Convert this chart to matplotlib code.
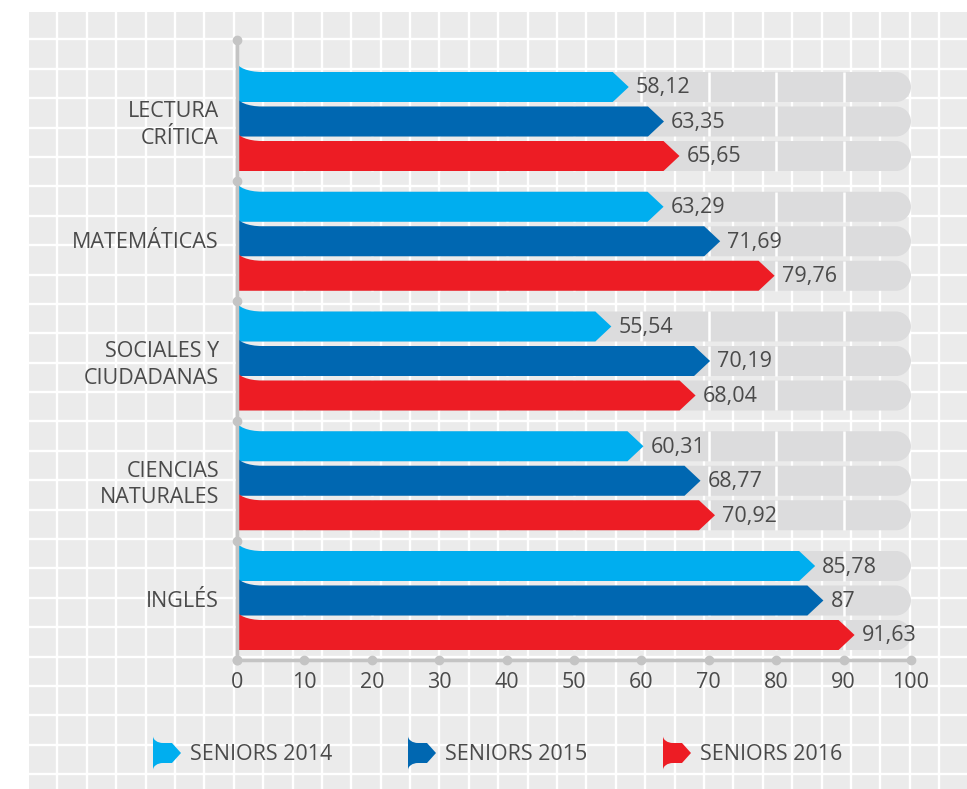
import matplotlib
matplotlib.use("Agg")
import matplotlib.pyplot as plt
from matplotlib.path import Path
from matplotlib.patches import PathPatch, Rectangle

plt.rcParams['font.family'] = ['Open Sans', 'DejaVu Sans']

# data
categories = ["LECTURA\nCRÍTICA", "MATEMÁTICAS", "SOCIALES Y\nCIUDADANAS",
              "CIENCIAS\nNATURALES", "INGLÉS"]
seniors_2014 = [58.12, 63.29, 55.54, 60.31, 85.78]
seniors_2015 = [63.35, 71.69, 70.19, 68.77, 87]
seniors_2016 = [65.65, 79.76, 68.04, 70.92, 91.63]
series_names = ["SENIORS 2014", "SENIORS 2015", "SENIORS 2016"]
colors = ["#00aeef", "#0067b1", "#ed1c24"]
ticks = list(range(0, 101, 10))

text_col = "#4a4a4a"
gray_bar = "#dcdcdd"
axis_col = "#c4c4c4"
fs = 15.5

W, H = 967, 789
fig = plt.figure(figsize=(W / 100, H / 100), dpi=100)

# graph-paper background (pixel coords)
bg = fig.add_axes([0, 0, 1, 1], zorder=0)
bg.set_xlim(0, W)
bg.set_ylim(H, 0)
bg.axis("off")
bg.add_patch(Rectangle((29, 12), W - 29, H - 12, color="#ebebeb", lw=0))
x = 57.3
while x < W:
    bg.plot([x, x], [12, H], color="white", lw=1.7)
    x += 29.4
y = 39.3
while y < H:
    bg.plot([29, W], [y, y], color="white", lw=1.7)
    y += 29.4


def flag_path(x0, x1, yc, h, tip, fl, fh, both=False):
    k = 0.448
    yt, yb = yc - h / 2, yc + h / 2
    verts = [(x0, yt - fh), (x0, yt - fh * k), (x0 + fl * k, yt), (x0 + fl, yt),
             (x1 - tip, yt), (x1, yc), (x1 - tip, yb)]
    codes = [Path.MOVETO] + [Path.CURVE4] * 3 + [Path.LINETO] * 3
    if both:
        verts += [(x0 + fl, yb), (x0 + fl * k, yb), (x0, yb + fh * k), (x0, yb + fh)]
        codes += [Path.LINETO] + [Path.CURVE4] * 3
    else:
        verts += [(x0, yb)]
        codes += [Path.LINETO]
    verts += [(x0, yt - fh)]
    codes += [Path.CLOSEPOLY]
    return Path(verts, codes)


def round_bar(x1, yc, h, rx):
    yt, yb = yc - h / 2, yc + h / 2
    ry = h / 2
    cx = x1 - rx
    verts = [(0, yt), (cx, yt),
             (cx + 0.552 * rx, yt), (x1, yc - 0.552 * ry), (x1, yc),
             (x1, yc + 0.552 * ry), (cx + 0.552 * rx, yb), (cx, yb),
             (0, yb), (0, yt)]
    codes = [Path.MOVETO, Path.LINETO] + [Path.CURVE4] * 6 + [Path.LINETO, Path.CLOSEPOLY]
    return Path(verts, codes)


# main axes: x in data units, y in pixels from top of plot area
left, right, top, bottom = 237, 911, 40, 660
ax = fig.add_axes([left / W, (H - bottom) / H, (right - left) / W, (bottom - top) / H], zorder=1)
ax.patch.set_alpha(0)
ax.set_xlim(0, 100)
ax.set_ylim(bottom - top, 0)
for s in ax.spines.values():
    s.set_visible(False)

pxu = (right - left) / 100.0  # pixels per x unit
first_c, group_step, bar_step, bar_h = 81.5, 119.75, 34.5, 30

series = [seniors_2014, seniors_2015, seniors_2016]
centers = [first_c + i * group_step for i in range(len(categories))]

for i, c in enumerate(centers):
    for j, vals in enumerate(series):
        yc = c + (j - 1) * bar_step
        ax.add_patch(PathPatch(round_bar(100, yc, bar_h, 15 / pxu), fc=gray_bar, ec="none",
                               zorder=1, clip_on=False))
        ax.vlines(ticks[1:-1], yc - bar_h / 2, yc + bar_h / 2, color="white", lw=1.8, zorder=2)
        v = vals[i]
        ax.add_patch(PathPatch(flag_path(0, v, yc, bar_h, 16 / pxu, 25 / pxu, 10),
                               fc=colors[j], ec="none", zorder=3, clip_on=False))
        ax.text(v + 7 / pxu, yc + 1, f"{v:g}".replace(".", ","), ha="left", va="center",
                fontsize=fs, color=text_col, zorder=4)

# axis lines with dots
ymax = bottom - top
bounds = [0] + [c + group_step / 2 for c in centers[:-1]] + [ymax]
ax.plot([0, 0], [0, ymax], color=axis_col, lw=2.5, zorder=5, clip_on=False)
ax.plot([0] * len(bounds), bounds, "o", color=axis_col, ms=6, zorder=5, clip_on=False)
ax.plot([0, 100], [ymax, ymax], color=axis_col, lw=2.5, zorder=5, clip_on=False)
ax.plot(ticks, [ymax] * len(ticks), "o", color=axis_col, ms=6, zorder=5, clip_on=False)

ax.set_xticks(ticks)
ax.set_xticklabels([str(t) for t in ticks], fontsize=fs, color=text_col)
ax.set_yticks([c - 1.5 for c in centers])
ax.set_yticklabels(categories, fontsize=fs, color=text_col, linespacing=1.35)
ax.tick_params(axis="x", length=0, pad=9)
ax.tick_params(axis="y", length=0, pad=13)

# legend (pixel coords on background axes)
leg_x = [153, 408, 663]
for name, col, lx in zip(series_names, colors, leg_x):
    bg.add_patch(PathPatch(flag_path(lx, lx + 28, 753, 20, 9, 10, 7, both=True),
                           fc=col, ec="none", zorder=3))
    bg.text(lx + 37, 754, name, ha="left", va="center", fontsize=fs, color=text_col)

fig.savefig("out.png", dpi=100)
